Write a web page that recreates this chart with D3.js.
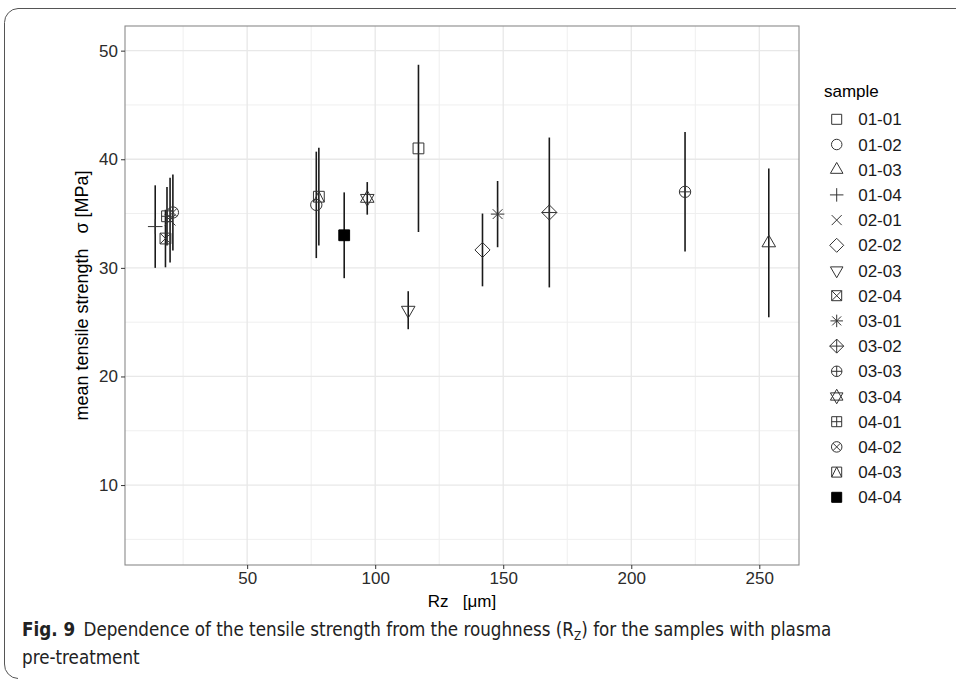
<!DOCTYPE html>
<html>
<head>
<meta charset="utf-8">
<script src="https://cdn.jsdelivr.net/npm/d3@7"></script>
<style>
  body { margin: 0; background: #fff; }
  text { font-family: "Liberation Sans", Arial, sans-serif; }
</style>
</head>
<body>
<div id="chart"></div>
<script>
// sample ids, roughness Rz [um], mean tensile strength and its sd [MPa]
const samples = ["01-01","01-02","01-03","01-04","02-01","02-02","02-03","02-04",
                 "03-01","03-02","03-03","03-04","04-01","04-02","04-03","04-04"]
const rz      = [116.9, 77.0, 253.7, 14.1, 19.9, 141.9, 112.9, 18.1,
                 147.8, 168.0, 221.0, 96.9, 18.7, 21.0, 78.0, 87.9]
const strength = [41.0, 35.8, 32.3, 33.8, 34.4, 31.65, 26.1, 32.7,
                  34.95, 35.1, 37.0, 36.4, 34.75, 35.1, 36.55, 33.0]
const strengthSd = [7.7, 4.9, 6.85, 3.8, 3.9, 3.35, 1.75, 2.65,
                    3.05, 6.9, 5.5, 1.5, 2.7, 3.5, 4.5, 3.95]

const xTicks = [50, 100, 150, 200, 250]
const xMinor = [25, 75, 125, 175, 225]
const yTicks = [10, 20, 30, 40, 50]
const yMinor = [5, 15, 25, 35, 45]

let width = 956
let height = 679
let panel = { left: 125, top: 26, right: 799, bottom: 565 }

let data = samples.map((s, i) => ({
  sample: s, shape: i, rz: rz[i], m: strength[i], sd: strengthSd[i]
}))

let svg = d3.select("#chart")
  .append("svg")
  .attr("width", width)
  .attr("height", height)

// figure frame (journal style)
svg.append("path")
  .attr("d", "M956,8.5 H18 A14,14 0 0 0 4.5,22.5 V664 A14,14 0 0 0 18,678.5")
  .attr("fill", "none")
  .attr("stroke", "#555")
  .attr("stroke-width", 1)

let x = d3.scaleLinear()
  .domain([2.3, 265.5])
  .range([panel.left, panel.right])

let y = d3.scaleLinear()
  .domain([2.64, 52.27])
  .range([panel.bottom, panel.top])

// grid
let grid = svg.append("g")
grid.selectAll(".vminor").data(xMinor).enter().append("line")
  .attr("x1", d => x(d)).attr("x2", d => x(d))
  .attr("y1", panel.top).attr("y2", panel.bottom)
  .attr("stroke", "#efefef").attr("stroke-width", 1)
grid.selectAll(".hminor").data(yMinor).enter().append("line")
  .attr("y1", d => y(d)).attr("y2", d => y(d))
  .attr("x1", panel.left).attr("x2", panel.right)
  .attr("stroke", "#efefef").attr("stroke-width", 1)
grid.selectAll(".vmajor").data(xTicks).enter().append("line")
  .attr("x1", d => x(d)).attr("x2", d => x(d))
  .attr("y1", panel.top).attr("y2", panel.bottom)
  .attr("stroke", "#e8e8e8").attr("stroke-width", 1.3)
grid.selectAll(".hmajor").data(yTicks).enter().append("line")
  .attr("y1", d => y(d)).attr("y2", d => y(d))
  .attr("x1", panel.left).attr("x2", panel.right)
  .attr("stroke", "#e8e8e8").attr("stroke-width", 1.3)

// shapes like ggplot pch 0..15
function shapePath(k, r) {
  let p = d3.path()
  let sq = () => { p.rect(-r, -r, 2 * r, 2 * r) }
  let circ = (rr) => { p.moveTo(rr, 0); p.arc(0, 0, rr, 0, 2 * Math.PI) }
  let plus = (a) => { p.moveTo(-a, 0); p.lineTo(a, 0); p.moveTo(0, -a); p.lineTo(0, a) }
  let cross = (a) => { p.moveTo(-a, -a); p.lineTo(a, a); p.moveTo(-a, a); p.lineTo(a, -a) }
  let tri = (dir) => {
    let R = r * 1.45
    p.moveTo(0, -R * dir); p.lineTo(R * 0.866, R / 2 * dir); p.lineTo(-R * 0.866, R / 2 * dir); p.closePath()
  }
  let dia = (a) => { p.moveTo(0, -a); p.lineTo(a, 0); p.lineTo(0, a); p.lineTo(-a, 0); p.closePath() }
  switch (k) {
    case 0: sq(); break
    case 1: circ(r * 1.05); break
    case 2: tri(1); break
    case 3: plus(r * 1.35); break
    case 4: cross(r); break
    case 5: dia(r * 1.4); break
    case 6: tri(-1); break
    case 7: sq(); cross(r); break
    case 8: plus(r * 1.25); cross(r * 0.9); break
    case 9: dia(r * 1.4); plus(r * 1.4); break
    case 10: circ(r * 1.05); plus(r * 1.05); break
    case 11: tri(1); tri(-1); break
    case 12: sq(); plus(r); break
    case 13: circ(r * 1.05); cross(r * 0.74); break
    case 14: sq(); p.moveTo(-r, r); p.lineTo(0, -r); p.lineTo(r, r); break
    case 15: sq(); break
  }
  return p.toString()
}

// error bars
svg.append("g")
  .selectAll("line")
  .data(data)
  .enter().append("line")
    .attr("x1", d => x(d.rz))
    .attr("x2", d => x(d.rz))
    .attr("y1", d => y(d.m + d.sd))
    .attr("y2", d => y(d.m - d.sd))
    .attr("stroke", "#1a1a1a")
    .attr("stroke-width", 1.6)

// points
svg.append("g")
  .selectAll("path")
  .data(data)
  .enter().append("path")
    .attr("transform", d => `translate(${x(d.rz)},${y(d.m)})`)
    .attr("d", d => shapePath(d.shape, 5.4))
    .attr("fill", d => d.shape == 15 ? "#000" : "none")
    .attr("stroke", d => d.shape == 15 ? "#000" : "#333")
    .attr("stroke-width", 1)

// panel border
svg.append("rect")
  .attr("x", panel.left).attr("y", panel.top)
  .attr("width", panel.right - panel.left)
  .attr("height", panel.bottom - panel.top)
  .attr("fill", "none")
  .attr("stroke", "#8a8a8a")
  .attr("stroke-width", 1.1)

// axes
let xAxis = g => g
  .attr("transform", `translate(0,${panel.bottom})`)
  .call(d3.axisBottom(x).tickValues(xTicks).tickSize(4).tickPadding(3))
  .call(g => g.select(".domain").remove())

let yAxis = g => g
  .attr("transform", `translate(${panel.left},0)`)
  .call(d3.axisLeft(y).tickValues(yTicks).tickSize(4).tickPadding(3))
  .call(g => g.select(".domain").remove())

svg.append("g").call(xAxis)
svg.append("g").call(yAxis)
svg.selectAll(".tick text")
  .style("font-family", "'Liberation Sans', Arial, sans-serif")
  .style("font-size", "17px")
  .attr("fill", "#2b2b2b")
svg.selectAll(".tick line").attr("stroke", "#333")

// axis titles
svg.append("text")
  .attr("x", (panel.left + panel.right) / 2)
  .attr("y", 607)
  .attr("text-anchor", "middle")
  .style("font-size", "17px")
  .text("Rz\u00a0\u00a0\u00a0[\u03bcm]")

svg.append("text")
  .attr("transform", `translate(88,${(panel.top + panel.bottom) / 2}) rotate(-90)`)
  .attr("text-anchor", "middle")
  .style("font-size", "18px")
  .text("mean tensile strength\u00a0\u00a0\u00a0\u03c3 [MPa]")

// legend
let legend = svg.append("g")
legend.append("text")
  .attr("x", 824).attr("y", 97)
  .style("font-size", "17px")
  .text("sample")

let item = legend.selectAll(".item")
  .data(data)
  .enter().append("g")
    .attr("transform", (d, i) => `translate(836.7,${119.3 + i * 25.2})`)

item.append("path")
  .attr("d", d => shapePath(d.shape, 5))
  .attr("fill", d => d.shape == 15 ? "#000" : "none")
  .attr("stroke", d => d.shape == 15 ? "#000" : "#333")
  .attr("stroke-width", 1)

item.append("text")
  .attr("x", 21.5)
  .attr("dy", "0.36em")
  .style("font-size", "17px")
  .attr("fill", "#1a1a1a")
  .text(d => d.sample)

// caption, font size fitted so line 1 spans about 810 px
let capFont = "'Liberation Sans Narrow', 'DejaVu Sans Condensed', 'Liberation Sans', sans-serif"
let cap = svg.append("text")
  .attr("x", 22).attr("y", 636)
  .style("font-family", capFont)
  .style("font-size", "19px")
  .attr("fill", "#222")
cap.append("tspan").style("font-weight", "bold").text("Fig. 9")
cap.append("tspan").text("\u2002Dependence of the tensile strength from the roughness (R")
cap.append("tspan").attr("dy", 4).style("font-size", "12px").text("Z")
cap.append("tspan").attr("dy", -4).text(") for the samples with plasma")

let fs = 19 * 810 / cap.node().getComputedTextLength()
fs = Math.max(15, Math.min(21, fs))
cap.style("font-size", fs + "px")
cap.selectAll("tspan").filter((d, i) => i == 2).style("font-size", (fs * 0.63) + "px")

svg.append("text")
  .attr("x", 22).attr("y", 664)
  .style("font-family", capFont)
  .style("font-size", fs + "px")
  .attr("fill", "#222")
  .text("pre-treatment")
</script>
</body>
</html>
